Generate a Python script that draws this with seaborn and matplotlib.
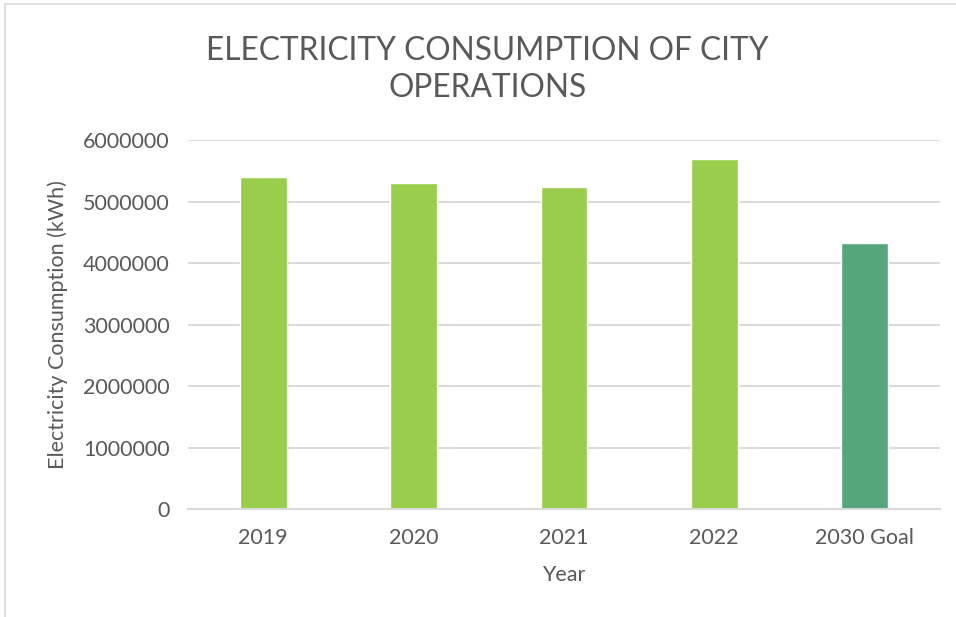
import matplotlib
matplotlib.use("Agg")
import matplotlib.pyplot as plt
import seaborn as sns
import pandas as pd
from matplotlib.patches import Rectangle

years = ["2019", "2020", "2021", "2022", "2030 Goal"]
consumption_kwh = [5400000, 5300000, 5230000, 5690000, 4320000]
bar_colors = ["#9BCD4C", "#9BCD4C", "#9BCD4C", "#9BCD4C", "#55A77B"]
y_ticks = [0, 1000000, 2000000, 3000000, 4000000, 5000000, 6000000]

df = pd.DataFrame({"Year": years, "Consumption": consumption_kwh})

sns.set_theme(style="white")
plt.rcParams["font.family"] = ["Lato", "DejaVu Sans"]
text_color = "#595959"
grid_color = "#D9D9D9"

fig = plt.figure(figsize=(9.56, 6.17), dpi=100)
ax = fig.add_axes([0.1967, 0.175, 0.7863, 0.598])

sns.barplot(data=df, x="Year", y="Consumption", hue="Year",
            palette=bar_colors, width=0.31, legend=False, ax=ax,
            saturation=1)

ax.set_ylim(0, 6000000)
ax.set_xlim(-0.5, len(years) - 0.5)
ax.set_yticks(y_ticks)
ax.set_yticklabels([str(v) for v in y_ticks])
ax.yaxis.grid(True, color=grid_color, linewidth=1.4)
ax.set_axisbelow(True)
for side in ["top", "right", "left"]:
    ax.spines[side].set_visible(False)
ax.spines["bottom"].set_color(grid_color)
ax.spines["bottom"].set_linewidth(1.4)
ax.tick_params(axis="both", length=0, labelsize=15.5, labelcolor=text_color)
ax.tick_params(axis="y", pad=13)
ax.tick_params(axis="x", pad=14)

ax.set_xlabel("Year", fontsize=15.5, color=text_color, labelpad=12)
ax.set_ylabel("Electricity Consumption (kWh)", fontsize=15.5,
              color=text_color, labelpad=11)

fig.text(0.51, 0.888, "ELECTRICITY CONSUMPTION OF CITY\nOPERATIONS",
         ha="center", va="center", fontsize=22.8, color=text_color,
         linespacing=1.3)

# light chart-area frame
fig.patches.append(Rectangle((5 / 956, -0.05), 1.2, 1 - 4 / 617 + 0.05,
                             transform=fig.transFigure, fill=False,
                             edgecolor="#D9D9D9", linewidth=1.2))

fig.savefig("out.png", dpi=100)
